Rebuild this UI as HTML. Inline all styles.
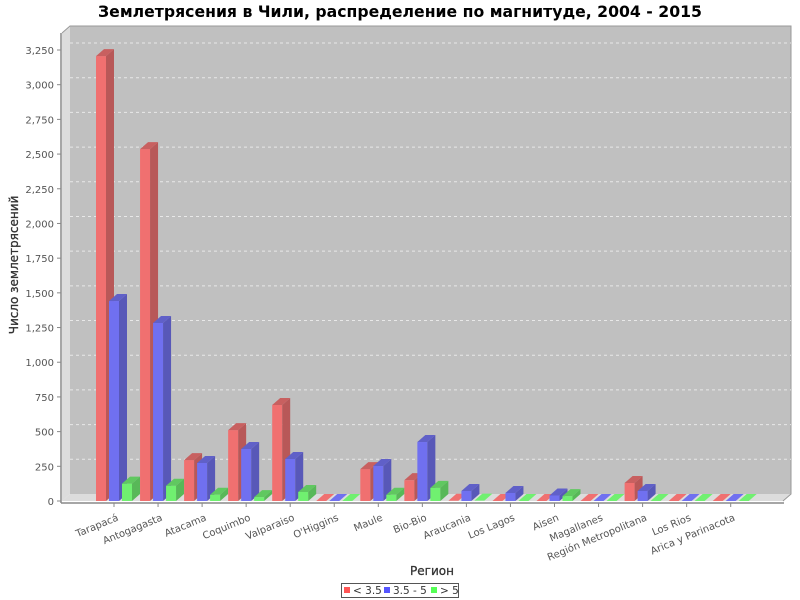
<!DOCTYPE html>
<html><head><meta charset="utf-8"><style>
html,body{margin:0;padding:0;background:#fff;}
svg{display:block;font-family:"DejaVu Sans","Liberation Sans",sans-serif;}
</style></head><body>
<svg id="c" width="800" height="600" xmlns="http://www.w3.org/2000/svg">
<text x="400" y="17" text-anchor="middle" font-size="15.7" font-weight="bold" fill="#000">Землетрясения в Чили, распределение по магнитуде, 2004 - 2015</text>
<polygon points="62,33 70,26 70,494 62,501" fill="#dcdcdc"/>
<rect x="70" y="26" width="721" height="468" fill="#c0c0c0"/>
<polygon points="62,501 70,494 791,494 783,501" fill="#dcdcdc"/>
<polyline points="62,33 70,26 791,26 791,494 783,501" fill="none" stroke="#999" stroke-width="1"/>
<g id="grid"></g>
<g id="bars"></g>
<line x1="61" y1="33" x2="61" y2="503" stroke="#888" stroke-width="1.5"/>
<line x1="61" y1="503" x2="784" y2="503" stroke="#888" stroke-width="1.5"/>
<g id="ticks" font-size="10" fill="#555"></g>
<g id="cats" font-size="10" fill="#555"></g>
<text transform="translate(18,265) rotate(-90)" text-anchor="middle" font-size="12" fill="#333" stroke="#333" stroke-width="0.3">Число землетрясений</text>
<text x="432" y="575" text-anchor="middle" font-size="12" fill="#333" stroke="#333" stroke-width="0.3">Регион</text>
<rect x="341.5" y="583.5" width="117" height="14" fill="#fff" stroke="#555"/>
<rect x="344" y="587" width="6" height="6" fill="#ff5555"/>
<text x="353" y="594" font-size="10.5" fill="#333">&lt; 3.5</text>
<rect x="384" y="587" width="6" height="6" fill="#5555ff"/>
<text x="393" y="594" font-size="10.5" fill="#333">3.5 - 5</text>
<rect x="431" y="587" width="6" height="6" fill="#55ff55"/>
<text x="440" y="594" font-size="10.5" fill="#333">&gt; 5</text>
</svg>
<script>
var NS="http://www.w3.org/2000/svg";
function el(p,t,a,txt){var e=document.createElementNS(NS,t);for(var k in a)e.setAttribute(k,a[k]);if(txt)e.textContent=txt;p.appendChild(e);return e;}
var y0=501,sc=451/3250;
var grid=document.getElementById('grid'),ticks=document.getElementById('ticks');
for(var v=0;v<=3250;v+=250){var y=y0-v*sc;
 if(v>0)el(grid,'line',{x1:70,y1:y-7,x2:791,y2:y-7,stroke:'#e8e8e8','stroke-dasharray':'3,3','stroke-width':1});
 el(ticks,'line',{x1:57,y1:y,x2:61,y2:y,stroke:'#888'});
 el(ticks,'text',{x:54,y:y+4,'text-anchor':'end'},v.toLocaleString('en-US'));}
var cats=["Tarapacá","Antogagasta","Atacama","Coquimbo","Valparaiso","O'Higgins","Maule","Bio-Bio","Araucania","Los Lagos","Aisen","Magallanes","Región Metropolitana","Los Rios","Arica y Parinacota"];
var data=[[3206,1441,125],[2536,1283,110],[295,274,45],[511,375,28],[692,303,65],[0,0,0],[230,252,45],[150,425,95],[2,72,3],[0,58,0],[0,40,35],[0,0,0],[130,72,0],[0,0,0],[0,0,0]];
var cols=[['#f07070','#b85858','#c86060'],['#7070f0','#5858b8','#6060c8'],['#70f070','#58b858','#60c860']];
var bars=document.getElementById('bars'),cg=document.getElementById('cats');
for(var i=0;i<15;i++){var c=114+i*44.05;
 for(var s=0;s<3;s++){var x=c-18+s*13,h=data[i][s]*sc,t=y0-h;
  if(h>0.5){el(bars,'rect',{x:x,y:t,width:10,height:h,fill:cols[s][0]});
   el(bars,'polygon',{points:(x+10)+','+t+' '+(x+18)+','+(t-7)+' '+(x+18)+','+(y0-7)+' '+(x+10)+','+y0,fill:cols[s][1]});}
  el(bars,'polygon',{points:x+','+t+' '+(x+8)+','+(t-7)+' '+(x+18)+','+(t-7)+' '+(x+10)+','+t,fill:h>0.5?cols[s][2]:cols[s][0]});}
 el(cg,'line',{x1:c,y1:503,x2:c,y2:507,stroke:'#888'});
 el(cg,'text',{'text-anchor':'end',transform:'translate('+(c+5)+',520) rotate(-22.5)'},cats[i]);}
</script>
</body></html>
